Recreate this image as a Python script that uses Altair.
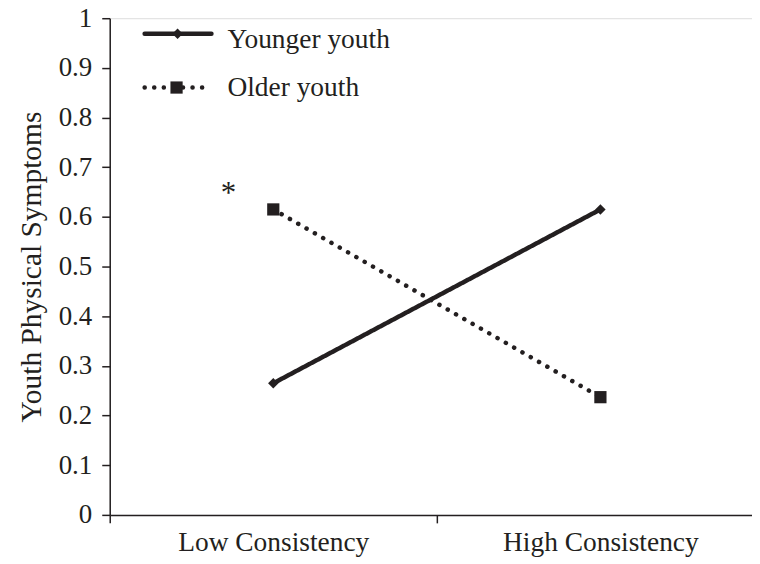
import altair as alt
import pandas as pd

# ---- data ----
conditions = ["Low Consistency", "High Consistency"]
groups = ["Younger youth", "Older youth"]
younger = [0.265, 0.615]
older = [0.615, 0.237]
y_ticks = [0, 0.1, 0.2, 0.3, 0.4, 0.5, 0.6, 0.7, 0.8, 0.9, 1.0]
star_label = ["*"]
star_condition = ["Low Consistency"]
star_value = [0.655]

INK = "#231f20"
FONT = "Liberation Serif"

rows = []
for g, vals in zip(groups, [younger, older]):
    for c, v in zip(conditions, vals):
        rows.append({"condition": c, "group": g, "value": v})
df = pd.DataFrame(rows)
star_df = pd.DataFrame({"label": star_label, "condition": star_condition, "value": star_value})

x_enc = alt.X(
    "condition:N",
    sort=conditions,
    scale=alt.Scale(domain=conditions, paddingInner=0, paddingOuter=0, range=[0, 656]),
    axis=alt.Axis(
        title=None, labelAngle=0, tickBand="extent", tickSize=8, tickColor=INK,
        domainColor=INK, labelFont=FONT, labelFontSize=27.5, labelColor=INK,
        labelPadding=6, labelLimit=0, grid=False, domainWidth=1.5, tickWidth=1.5,
    ),
)
y_enc = alt.Y(
    "value:Q",
    scale=alt.Scale(domain=[0, 1], nice=False, zero=True),
    axis=alt.Axis(
        title="Youth Physical Symptoms", values=y_ticks, format="~g",
        tickSize=8, tickColor=INK, domainColor=INK, domainWidth=1.5, tickWidth=1.5,
        labelFont=FONT, labelFontSize=27, labelColor=INK, labelPadding=10,
        titleFont=FONT, titleFontSize=29.5, titleFontWeight="normal", titleColor=INK,
        titleX=-63, titleY=249, grid=False,
    ),
)

dash_scale = alt.Scale(domain=groups, range=[[1, 0], [0.1, 9.5]])
shape_scale = alt.Scale(domain=groups, range=["diamond", "square"])
size_scale = alt.Scale(domain=groups, range=[110, 150])

base = alt.Chart(df)
lines = base.mark_line(color=INK, strokeWidth=4.5, strokeCap="round").encode(
    x=x_enc, y=y_enc,
    strokeDash=alt.StrokeDash("group:N", scale=dash_scale, legend=None),
    detail="group:N",
)
points = base.mark_point(color=INK, filled=True, opacity=1).encode(
    x=alt.X("condition:N", sort=conditions), y="value:Q",
    shape=alt.Shape("group:N", scale=shape_scale, legend=None),
    size=alt.Size("group:N", scale=size_scale, legend=None),
)
star = alt.Chart(star_df).mark_text(
    font=FONT, fontSize=31, color=INK, dx=-45, baseline="middle", dy=4
).encode(x=alt.X("condition:N", sort=conditions), y="value:Q", text="label:N")

# ---- manual legend (top-left) ----
legend_layers = []
legend_rows = [
    (groups[0], 15.5, 29.5, [1, 0], "diamond", 110, 35, 102, 68),
    (groups[1], 69.5, 77.5, [0.1, 9.5], "square", 150, 35, 97, 67),
]
for name, ly, ty, dash, shp, sz, x1, x2, xm in legend_rows:
    one = pd.DataFrame({"group": [name]})
    legend_layers.append(
        alt.Chart(one).mark_rule(color=INK, strokeWidth=4.5, strokeCap="round", strokeDash=dash).encode(
            x=alt.value(x1), x2=alt.value(x2), y=alt.value(ly)
        )
    )
    legend_layers.append(
        alt.Chart(one).mark_point(color=INK, filled=True, opacity=1, shape=shp, size=sz).encode(
            x=alt.value(xm), y=alt.value(ly)
        )
    )
    legend_layers.append(
        alt.Chart(one).mark_text(font=FONT, fontSize=27.5, color=INK, align="left", baseline="alphabetic").encode(
            x=alt.value(118), y=alt.value(ty), text="group:N"
        )
    )

chart = alt.layer(lines, points, star, *legend_layers).properties(
    width=644, height=498,
    autosize=alt.AutoSizeParams(type="none"),
    padding={"left": 102, "top": 9.5, "right": 0, "bottom": 46},
).configure_view(strokeWidth=0, stroke="transparent", strokeOpacity=0).configure(background="white")

chart.save("out.html", embed_options={"renderer": "svg", "actions": False})
